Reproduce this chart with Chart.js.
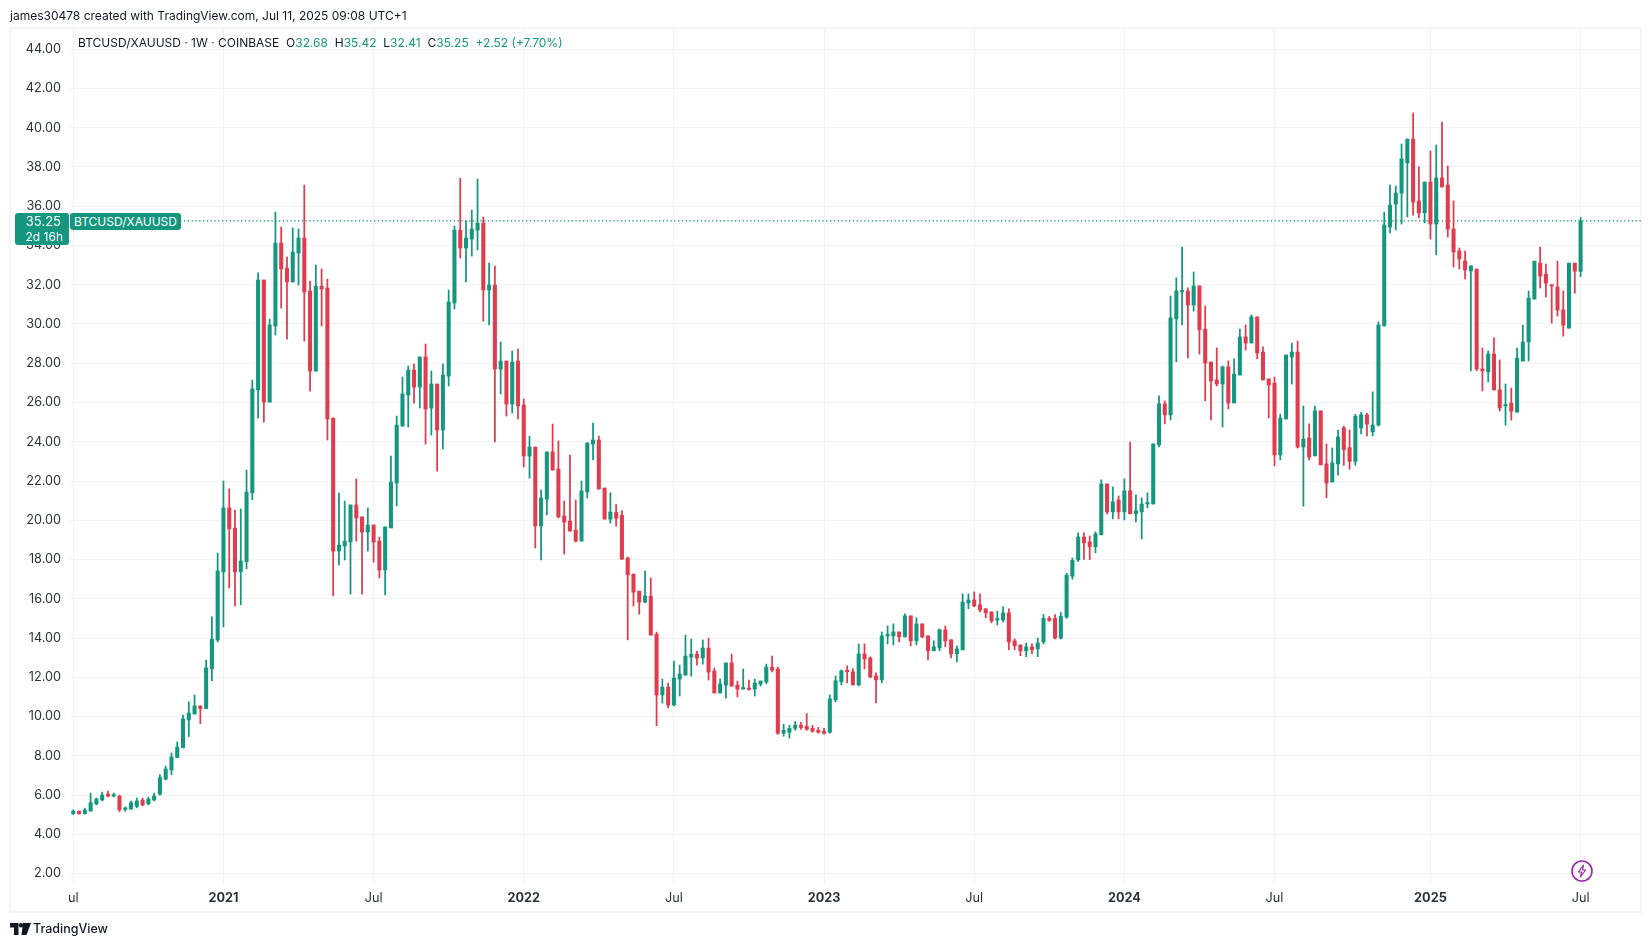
<!DOCTYPE html>
<html>
<head>
<meta charset="utf-8">
<title>BTCUSD/XAUUSD</title>
<script src="https://cdn.jsdelivr.net/npm/chart.js@4"></script>
<style>
  html, body { margin: 0; background: #fff; }
  body { width: 1651px; height: 947px; position: relative; overflow: hidden; font-family: Inter, sans-serif; color: #131722; }
  canvas { position: absolute; left: 0; top: 0; }
  .frame { position: absolute; left: 9px; top: 27px; width: 1629px; height: 882px; border: 2px solid #f3f4f6; box-sizing: content-box; }
  .txt { position: absolute; white-space: nowrap; font-size: 12px; line-height: 16px; }
  .up { color: #14967f; }
  .tag { position: absolute; background: #14967f; color: #fff; border-radius: 3px; white-space: nowrap; font-size: 12px; }
</style>
</head>
<body>
<div class="frame"></div>
<canvas id="myChart" width="1651" height="947"></canvas>
<div class="txt" style="left:10px;top:8px">james30478 created with TradingView.com, Jul 11, 2025 09:08 UTC+1</div>
<div class="txt" style="left:78px;top:35px">BTCUSD/XAUUSD · 1W · COINBASE &nbsp;O<span class="up">32.68</span> &nbsp;H<span class="up">35.42</span> &nbsp;L<span class="up">32.41</span> &nbsp;C<span class="up">35.25</span> &nbsp;<span class="up">+2.52 (+7.70%)</span></div>
<div class="tag" style="left:15px;top:213px;width:54px;height:32px;line-height:16px;text-align:right"><div style="padding-right:8px;font-size:13px">35.25</div><div style="padding-right:6px">2d 16h</div></div>
<div class="tag" style="left:70px;top:213px;width:111px;height:17px;line-height:17px;text-align:center">BTCUSD/XAUUSD</div>
<svg style="position:absolute;left:1570px;top:859px" width="24" height="24" viewBox="0 0 24 24">
  <circle cx="12" cy="12" r="10" fill="none" stroke="#9c27b0" stroke-width="1.6"/>
  <path d="M13.5 6 L8.5 13 H11.5 L10.5 18 L15.5 11 H12.5 Z" fill="none" stroke="#9c27b0" stroke-width="1.2" stroke-linejoin="round"/>
</svg>
<svg style="position:absolute;left:10px;top:923px" width="21" height="12" viewBox="0 0 21 12">
  <path d="M0 0 H8.5 V12 H4 V4.5 H0 Z M13 0 H21 L16.5 12 H11.5 Z" fill="#131722"/>
  <circle cx="11" cy="2.2" r="2.2" fill="#131722"/>
</svg>
<div class="txt" style="left:33px;top:921px;font-size:12.5px;font-weight:500">TradingView</div>
<script>
// weekly candles, one per week from Jul 2020
const opens = [
  5.05,5.18,5.05,5.19,5.55,5.75,6.05,5.95,5.95,5.27,
  5.29,5.42,5.75,5.55,5.75,6.05,6.81,7.28,7.91,8.42,
  9.83,10.13,10.54,10.41,12.43,13.9,17.37,20.63,19.6,17.38,
  17.89,21.4,26.64,32.24,26.02,29.9,34.12,32.85,32.14,33.61,
  34.38,31.68,27.6,31.93,31.83,25.21,18.43,18.69,18.89,20.78,
  20.17,19.4,19.76,18.94,17.47,19.61,21.9,24.8,26.38,27.65,
  26.79,28.32,25.72,26.94,24.6,27.35,31.07,34.78,33.87,34.33,
  34.78,35.14,31.73,31.98,27.7,28.11,25.92,28.11,25.87,23.27,
  23.73,19.71,21.08,23.48,22.61,20.22,19.96,19.5,18.94,21.44,
  23.88,24.09,21.64,20.06,20.4,20.25,18.07,17.26,16.39,15.83,
  16.14,14.2,11.1,11.5,10.59,11.91,12.11,13.03,13.18,12.98,
  13.49,12.32,11.2,11.6,12.73,11.6,11.4,11.45,11.4,11.66,
  11.76,12.52,12.42,9.15,9.2,9.4,9.55,9.5,9.4,9.3,
  9.25,9.2,10.85,11.77,12.33,12.28,11.61,13.19,12.99,12.07,
  11.87,14.11,14.11,14.31,14.06,15.13,13.86,14.72,14.11,13.35,
  13.5,14.42,13.91,13.19,13.4,15.79,15.94,15.69,15.49,15.33,
  14.92,14.92,15.28,13.86,13.65,13.35,13.55,13.45,13.8,15.0,
  15.0,14.0,15.07,17.15,17.98,19.15,18.9,18.65,19.26,21.85,
  20.43,21.04,20.43,21.5,20.33,20.43,20.83,20.83,23.84,25.93,
  25.37,30.26,31.63,31.68,30.97,31.94,29.73,28.06,27.15,26.94,
  27.81,25.98,27.4,29.34,29.03,30.36,28.57,27.2,26.99,23.33,
  25.16,28.32,28.57,23.73,24.19,23.28,25.57,22.87,21.95,22.87,
  24.7,23.7,23.0,24.7,25.37,24.5,24.85,29.9,34.94,36.11,
  36.67,38.2,39.42,36.27,35.66,37.23,35.09,37.44,37.08,34.84,
  33.72,33.21,32.7,32.8,27.71,27.56,28.47,26.64,25.82,25.97,
  25.51,28.11,29.08,31.27,33.1,32.54,31.96,31.88,30.71,29.79,
  33.1,32.68
];
const highs = [
  5.25,5.2,5.33,6.1,5.85,6.15,6.2,6.1,6.0,5.4,
  5.7,5.85,5.85,5.9,6.1,7.05,7.48,8.15,8.71,10.08,
  10.75,11.1,10.54,12.88,15.08,18.33,22.0,21.6,20.52,20.57,
  22.56,27.14,32.6,32.24,30.25,35.7,34.94,33.41,34.89,34.84,
  37.08,32.19,33.0,32.8,32.29,25.21,21.39,20.98,20.78,22.1,
  20.17,20.63,19.76,19.15,19.66,23.27,25.31,27.3,27.86,27.96,
  28.32,28.98,27.6,26.94,27.96,31.73,34.99,37.43,35.24,35.8,
  37.38,35.45,33.1,32.95,29.08,28.11,28.62,28.72,26.18,24.29,
  23.73,21.54,23.48,24.9,24.04,20.98,23.32,21.03,22.0,23.94,
  24.95,24.29,21.64,21.4,20.8,20.5,18.13,17.26,16.39,17.41,
  17.06,14.3,11.91,11.71,12.83,12.62,14.15,13.95,13.34,13.9,
  14.0,12.47,11.91,12.73,13.18,11.81,12.42,11.86,11.91,11.81,
  12.67,13.08,12.52,9.6,9.55,9.75,9.7,10.15,9.55,9.45,
  9.4,11.1,12.07,12.38,12.58,12.43,13.7,13.7,13.04,12.23,
  14.31,14.62,14.72,14.31,15.23,15.13,15.03,14.72,14.11,13.86,
  14.47,14.62,13.91,13.6,16.25,16.25,16.35,16.25,15.49,15.33,
  15.38,15.59,15.49,13.96,13.65,13.75,13.7,14.0,15.2,15.1,
  15.2,15.3,17.3,18.08,19.36,19.36,19.2,19.41,22.06,21.85,
  21.7,21.24,22.11,23.99,21.29,21.14,21.4,23.89,26.34,26.08,
  31.43,32.35,33.92,31.84,32.65,31.94,30.92,28.06,28.78,27.86,
  28.12,28.22,29.74,29.95,30.46,30.36,28.83,27.2,27.3,25.41,
  28.42,29.03,29.13,25.82,24.91,25.82,25.57,23.89,23.68,24.6,
  24.8,24.6,25.4,25.5,25.45,26.54,30.1,35.7,37.08,37.03,
  39.17,39.42,40.75,38.0,37.23,38.81,39.12,40.29,38.05,36.27,
  33.87,33.72,32.96,32.8,28.78,28.63,29.29,28.17,26.94,26.73,
  28.77,29.94,31.68,33.2,33.92,33.05,31.96,33.2,31.68,33.1,
  33.1,35.42
];
const lows = [
  5.02,5.03,5.03,5.17,5.5,5.7,5.9,5.9,5.15,5.17,
  5.27,5.35,5.45,5.5,5.7,6.0,6.77,7.04,7.9,8.4,
  8.98,10.13,9.64,10.41,11.83,13.8,14.57,16.55,15.64,15.7,
  17.53,21.05,25.2,25.0,26.02,29.44,30.81,29.23,32.14,31.98,
  29.13,26.58,27.6,29.9,24.09,16.15,17.72,17.98,16.24,18.94,
  16.24,18.43,17.87,17.06,16.2,19.61,20.73,24.8,24.75,25.97,
  25.72,23.88,24.34,22.51,23.63,26.84,30.76,33.36,32.14,33.46,
  33.77,30.15,29.95,23.99,26.43,25.31,25.46,25.16,22.71,22.15,
  18.59,17.98,20.27,22.56,20.12,18.28,19.45,18.89,18.94,21.13,
  23.07,21.59,20.06,19.85,19.7,18.0,13.91,15.63,15.22,15.8,
  14.15,9.53,10.69,10.44,10.54,11.05,12.11,12.06,12.62,12.67,
  11.86,11.2,11.2,10.94,11.55,11.0,11.4,11.35,11.05,11.55,
  11.67,12.27,9.1,9.0,8.9,9.3,9.35,9.3,9.2,9.15,
  9.1,9.15,10.75,11.61,11.72,11.61,11.56,12.43,11.97,10.7,
  11.72,13.7,13.65,13.8,14.06,13.6,13.65,14.01,12.89,13.35,
  13.35,13.55,12.99,12.79,13.4,15.49,15.59,15.33,15.03,14.77,
  14.67,14.82,13.4,13.4,13.1,13.05,13.2,13.05,13.7,14.85,
  13.95,13.95,15.0,17.0,17.9,18.0,18.0,18.34,19.26,20.33,
  20.07,20.07,20.02,20.33,19.92,19.05,20.63,20.83,23.74,24.91,
  25.11,28.07,29.95,28.27,30.66,28.47,26.08,25.11,26.84,24.75,
  25.67,25.98,27.4,28.67,29.03,28.22,27.15,25.21,22.77,23.07,
  25.16,26.94,23.68,20.72,23.07,23.28,22.82,21.15,21.95,22.3,
  22.8,22.6,22.8,24.4,24.3,24.3,24.8,29.9,34.64,34.79,
  35.09,35.45,35.55,35.4,35.15,34.33,33.52,36.98,34.43,32.9,
  32.8,32.29,27.61,27.61,26.59,27.05,26.64,25.57,24.85,25.1,
  25.51,28.11,28.11,31.27,31.83,31.37,30.05,30.4,29.38,29.79,
  31.57,32.41
];
const closes = [
  5.18,5.05,5.24,5.61,5.8,6.0,5.95,6.0,5.25,5.33,
  5.61,5.7,5.5,5.8,5.95,6.89,7.33,7.94,8.45,9.88,
  10.18,10.54,10.41,12.48,13.95,17.42,20.63,19.56,17.37,17.92,
  21.44,26.69,32.24,26.02,29.95,34.12,32.8,32.14,33.66,34.38,
  31.63,27.6,31.93,31.78,25.16,18.43,18.74,18.94,20.78,20.12,
  19.4,19.76,18.89,17.47,19.66,21.95,24.85,26.43,27.65,26.79,
  28.32,25.67,26.94,24.6,27.4,31.12,34.78,33.87,34.38,34.84,
  35.14,31.73,31.98,27.7,28.11,25.92,28.06,25.82,23.27,23.73,
  19.71,21.13,23.48,22.56,20.17,19.91,19.45,18.94,21.49,23.94,
  24.09,21.59,20.06,20.42,20.1,18.02,17.22,16.34,15.83,16.14,
  14.15,11.1,11.5,10.59,11.96,12.17,13.08,13.18,12.98,13.49,
  12.27,11.2,11.66,12.73,11.55,11.4,11.45,11.38,11.71,11.81,
  12.52,12.37,9.15,9.3,9.4,9.55,9.45,9.35,9.25,9.2,
  9.15,10.9,11.82,12.33,12.28,11.61,13.19,12.94,12.02,11.87,
  14.11,14.16,14.31,14.06,15.13,13.86,14.72,14.06,13.35,13.55,
  14.42,13.86,13.19,13.45,15.84,15.94,15.64,15.43,15.28,14.87,
  14.98,15.28,13.8,13.6,13.35,13.55,13.4,13.75,15.0,14.9,
  14.0,15.1,17.2,17.95,19.15,18.85,18.65,19.31,21.85,20.43,
  20.94,20.43,21.5,20.33,20.48,20.83,20.89,23.89,25.93,25.37,
  30.31,31.68,31.68,30.97,31.94,29.7,28.01,27.1,26.94,27.81,
  25.98,27.45,29.34,29.03,30.36,28.52,27.15,26.89,23.33,25.21,
  28.42,28.57,23.73,24.14,23.22,25.57,22.82,21.9,22.92,24.24,
  23.6,23.0,25.3,25.37,24.9,24.85,29.95,35.04,36.06,36.67,
  38.41,39.42,36.21,35.66,37.23,35.09,37.44,36.98,34.84,33.67,
  33.31,32.75,32.96,27.71,27.61,28.47,26.64,25.72,25.87,25.56,
  28.26,29.08,31.32,33.2,32.44,32.08,31.93,30.71,29.94,33.1,
  32.69,35.25
];
const priceTicks = [2,4,6,8,10,12,14,16,18,20,22,24,26,28,30,32,34,36,38,40,42,44];
const timeTicks = [0,26,52,78,104,130,156,182,208,235,261];
const timeLabels = ['ul','2021','Jul','2022','Jul','2023','Jul','2024','Jul','2025','Jul'];

const upColor = '#14967f';
const downColor = '#e03c4e';
const gridColor = '#f2f3f5';
const textColor = '#2e3238';
const lastPrice = closes[closes.length - 1];
const xMin = -0.57, xMax = 271.46;

function candleColor(ctx) {
    return closes[ctx.dataIndex] >= opens[ctx.dataIndex] ? upColor : downColor;
}

new Chart(document.getElementById('myChart'), {
    type: 'bar',
    data: {
        datasets: [
            {
                label: 'wick',
                data: opens.map((o, i) => ({ x: i, y: [lows[i], highs[i]] })),
                backgroundColor: candleColor,
                barThickness: 1.1,
                grouped: false,
                order: 2
            },
            {
                label: 'body',
                data: opens.map((o, i) => ({ x: i, y: [o, closes[i]] })),
                backgroundColor: candleColor,
                barThickness: 3.4,
                minBarLength: 1.5,
                grouped: false,
                order: 1
            },
            {
                type: 'line',
                label: 'last',
                data: [{ x: xMin, y: lastPrice }, { x: xMax, y: lastPrice }],
                borderColor: '#0b8a73',
                borderWidth: 1.3,
                borderDash: [1.3, 2.5],
                pointRadius: 0,
                order: 3
            }
        ]
    },
    options: {
        responsive: false,
        animation: false,
        layout: { padding: { left: 10, right: 10, top: 27, bottom: 35 } },
        plugins: { legend: { display: false }, tooltip: { enabled: false } },
        scales: {
            x: {
                type: 'linear',
                min: xMin,
                max: xMax,
                offset: false,
                grid: { color: gridColor, offset: false, drawTicks: false },
                border: { display: false },
                afterBuildTicks: (scale) => { scale.ticks = timeTicks.map(v => ({ value: v })); },
                afterFit: (scale) => { scale.height = 28; },
                ticks: {
                    autoSkip: false,
                    maxRotation: 0,
                    padding: 7,
                    color: textColor,
                    font: (ctx) => ({
                        family: 'Inter',
                        size: 12.7,
                        weight: /^\d/.test(timeLabels[timeTicks.indexOf(ctx.tick ? ctx.tick.value : -1)] || '') ? 'bold' : 'normal'
                    }),
                    callback: (v) => timeLabels[timeTicks.indexOf(v)]
                }
            },
            y: {
                min: 1.47,
                max: 45.13,
                grid: { color: gridColor, drawTicks: false },
                border: { display: false },
                afterBuildTicks: (scale) => { scale.ticks = priceTicks.map(v => ({ value: v })); },
                afterFit: (scale) => { scale.width = 60; },
                ticks: {
                    padding: 9,
                    color: textColor,
                    font: { family: 'Inter', size: 12.7 },
                    callback: (v) => v.toFixed(2)
                }
            }
        }
    }
});
</script>
</body>
</html>
